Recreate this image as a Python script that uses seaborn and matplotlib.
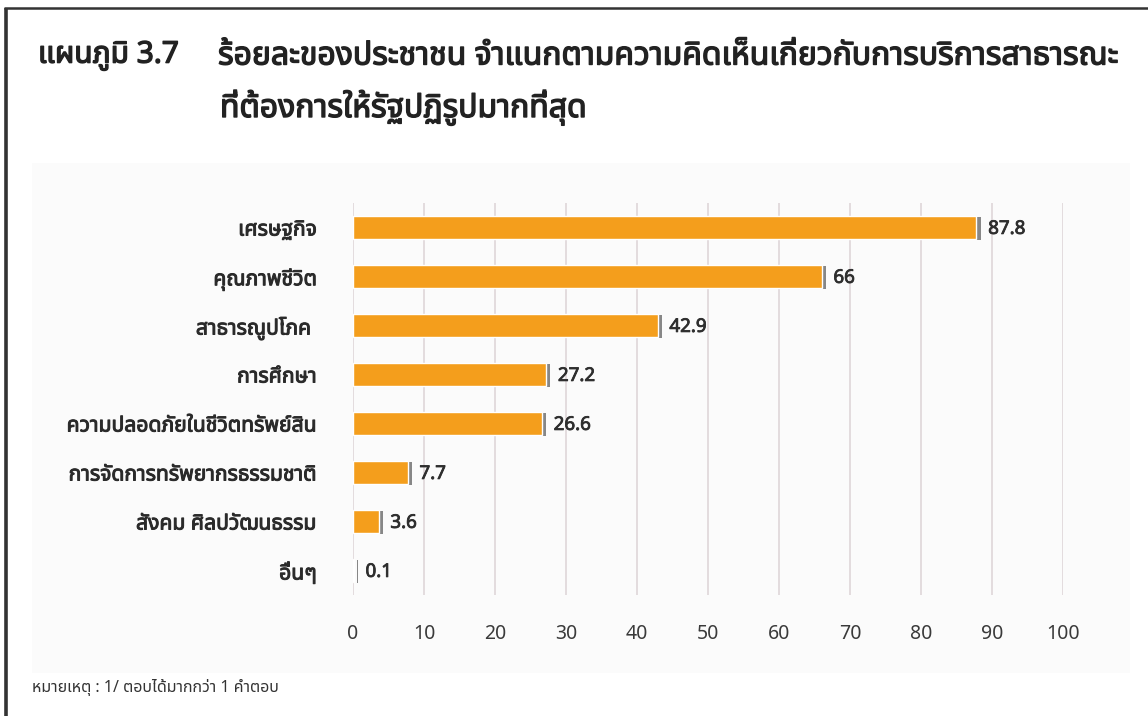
import matplotlib
matplotlib.use("Agg")
import matplotlib.pyplot as plt
import matplotlib.patheffects as pe
from matplotlib import font_manager
from matplotlib.patches import Rectangle
from matplotlib.lines import Line2D
import seaborn as sns
import pandas as pd

# ---- data -------------------------------------------------------------
categories = [
    "เศรษฐกิจ",
    "คุณภาพชีวิต",
    "สาธารณูปโภค ",
    "การศึกษา",
    "ความปลอดภัยในชีวิตทรัพย์สิน",
    "การจัดการทรัพยากรธรรมชาติ",
    "สังคม ศิลปวัฒนธรรม",
    "อื่นๆ",
]
percent = [87.8, 66, 42.9, 27.2, 26.6, 7.7, 3.6, 0.1]
x_ticks = [0, 10, 20, 30, 40, 50, 60, 70, 80, 90, 100]

title_label = "แผนภูมิ 3.7"
title_line1 = "ร้อยละของประชาชน จำแนกตามความคิดเห็นเกี่ยวกับการบริการสาธารณะ"
title_line2 = "ที่ต้องการให้รัฐปฏิรูปมากที่สุด"
footnote = "หมายเหตุ : 1/ ตอบได้มากกว่า 1 คำตอบ"


# ---- pick an installed family that has Thai glyphs ----------------------
def thai_family():
    preferred = ["Noto Sans Thai", "Noto Sans Thai UI", "Sarabun", "Loma",
                 "Garuda", "Tlwg Typo", "Kinnari", "Norasi", "Umpush"]
    found = []
    try:
        from fontTools.ttLib import TTFont
        for f in font_manager.fontManager.ttflist:
            try:
                tt = TTFont(f.fname, fontNumber=0, lazy=True)
                cmap = tt.getBestCmap()
                if cmap and 0x0E01 in cmap and 0x0E2D in cmap:
                    found.append(f.name)
            except Exception:
                continue
    except Exception:
        pass
    for p in preferred:
        if p in found:
            return p
    return found[0] if found else None


sns.set_theme(style="white")
fam = thai_family()
families = ([fam] if fam else []) + ["DejaVu Sans"]
plt.rcParams["font.family"] = families
num_family = ["Noto Sans", "DejaVu Sans"]


def heavy(color, w=0.9):
    # thicken glyph outlines so the face reads as bold
    return [pe.withStroke(linewidth=w, foreground=color)]


W, H = 1148, 716
fig = plt.figure(figsize=(W / 100, H / 100), dpi=100)
fig.patch.set_facecolor("white")


def fx(px):
    return px / W


def fy(py):
    return 1 - py / H


# light chart panel and page frame
fig.add_artist(Rectangle((fx(32), fy(673)), fx(1130) - fx(32), fy(163) - fy(673),
                         transform=fig.transFigure, facecolor="#fbfbfb",
                         edgecolor="none", zorder=0))
fig.add_artist(Line2D([fx(5.5), fx(5.5)], [fy(8), 0], transform=fig.transFigure,
                      color="#333333", lw=2.6, solid_capstyle="butt"))
fig.add_artist(Line2D([fx(4), 1], [fy(8), fy(8)], transform=fig.transFigure,
                      color="#333333", lw=1.8, solid_capstyle="butt"))

# titles
title_kw = dict(fontweight="bold", color="#222222", va="center", ha="left",
                path_effects=heavy("#222222", 1.0))
fig.text(fx(38), fy(56), title_label, fontsize=21.5, **title_kw)
fig.text(fx(218), fy(56), title_line1, fontsize=23, **title_kw)
fig.text(fx(220), fy(108), title_line2, fontsize=23, **title_kw)
fig.text(fx(32), fy(687), footnote, fontsize=11.5, fontstyle="italic",
         color="#333333", va="center", ha="left")

# ---- bar chart ----------------------------------------------------------
ax = fig.add_axes([fx(353), fy(595), fx(1063) - fx(353), fy(203) - fy(595)])
ax.set_facecolor("none")

df = pd.DataFrame({"category": categories, "percent": percent})
sns.barplot(data=df, x="percent", y="category", orient="h", color="#f49e1c",
            saturation=1, width=0.47, ax=ax, zorder=3)

for bar in ax.patches:
    bar.set_path_effects([
        pe.SimplePatchShadow(offset=(3, -1), shadow_rgbFace="#3a3a3a", alpha=0.6),
        pe.Normal(),
    ])

for i, v in enumerate(percent):
    ax.annotate(f"{v:g}", xy=(v, i), xytext=(8.5, -1), textcoords="offset points",
                ha="left", va="center", fontsize=13.5, fontweight="bold",
                family=num_family, color="#2e2e2e", zorder=4,
                path_effects=heavy("#2e2e2e", 0.6))

ax.set_xlim(0, 100)
ax.set_ylim(len(categories) - 0.5, -0.5)
ax.set_xticks(x_ticks)
ax.set_xticklabels([str(t) for t in x_ticks], family=num_family)
ax.grid(axis="x", color="#dcd3d6", lw=1.1, zorder=0)
ax.grid(axis="y", visible=False)
for s in ax.spines.values():
    s.set_visible(False)
ax.tick_params(axis="x", length=0, pad=21, labelsize=14, labelcolor="#3a3a3a")
ax.tick_params(axis="y", length=0, pad=26, labelsize=15.2, labelcolor="#2a2a2a")
for lab in ax.get_yticklabels():
    lab.set_fontweight("bold")
    lab.set_path_effects(heavy("#2a2a2a", 0.7))
ax.set_xlabel("")
ax.set_ylabel("")

fig.savefig("out.png", dpi=100, facecolor="white")
